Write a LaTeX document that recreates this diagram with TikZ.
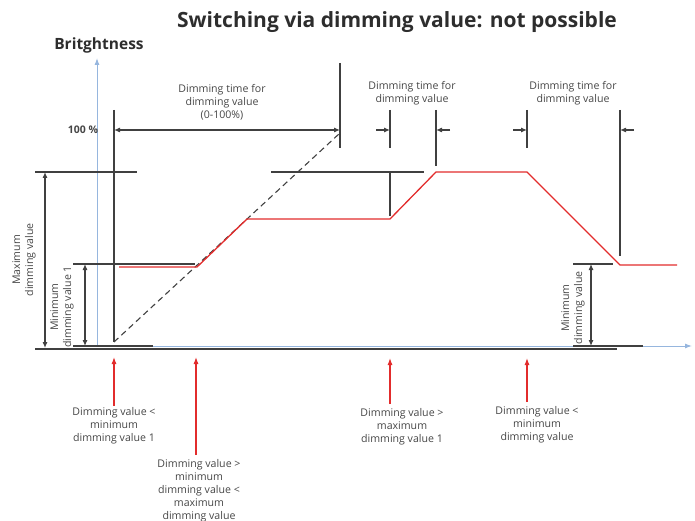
\documentclass[tikz,border=0pt]{standalone}
\usepackage{fontspec}
\setmainfont{Open Sans}
\usetikzlibrary{arrows.meta, positioning, calc}
\definecolor{linegray}{RGB}{64, 64, 64}
\definecolor{textgray}{RGB}{70, 70, 70}
\definecolor{titlegray}{RGB}{45, 45, 45}
\definecolor{curvered}{RGB}{226, 44, 44}
\definecolor{axisblue}{RGB}{150, 182, 222}
\tikzstyle{guide} = [linegray, line width=1.1pt]
\tikzstyle{dimarrow} = [linegray, line width=1.1pt, {Latex[length=6pt,width=5pt]}-{Latex[length=6pt,width=5pt]}]
\tikzstyle{pointer} = [linegray, line width=1.1pt, -{Latex[length=6pt,width=5pt]}]
\tikzstyle{redline} = [curvered, line width=1.3pt]
\tikzstyle{trigger} = [curvered, line width=1.1pt, -{Latex[length=7pt,width=5pt]}]
\tikzstyle{axis} = [axisblue, line width=1pt, -{Latex[length=7pt,width=5pt]}]
\tikzstyle{note} = [font=\fontsize{10.6}{13}\selectfont, textgray, align=center, inner sep=1pt]
\tikzstyle{vnote} = [note, rotate=90]

\begin{document}
\begin{tikzpicture}[x=1pt, y=-1pt]
\useasboundingbox (0,0) rectangle (695,521);

% Title
\node[font=\fontsize{21}{24}\selectfont\bfseries, titlegray] (title) at (397,22) {Switching via dimming value: not possible};
\node[font=\fontsize{15.5}{18}\selectfont\bfseries, titlegray] (ylabel) at (99,45) {Britghtness};

% Axes
\coordinate (origin) at (97,346);
\draw[axis] (origin) -- (97,58);
\draw[axis] (origin) -- (692,346);
\draw[guide] (35,349) -- (617,349);
\draw[guide] (73,346) -- (153,346);
\draw[guide] (573,346) -- (643,346);

% Guide lines
\draw[guide] (35,172) -- (137,172);
\draw[guide] (271,172) -- (424,172);
\draw[guide] (73,264) -- (195,264);
\draw[guide] (573,264) -- (613,264);
\draw[guide] (114,110) -- (114,342);
\draw[guide] (340,63) -- (340,148);
\draw[guide] (390,110) -- (390,148);
\draw[guide] (390,172) -- (390,216);
\draw[guide] (436,110) -- (436,166);
\draw[guide] (527,110) -- (527,148);
\draw[guide] (620,110) -- (620,256);

% Full ramp 0-100%
\draw[linegray, line width=1.1pt, dash pattern=on 6pt off 4pt] (114,342) -- (340,133);

% Brightness curve
\draw[redline] (119,267) -- (197,267) -- (247,219) -- (390,219) -- (436,172) -- (527,172) -- (620,265) -- (677,265);

% Dimming times
\node[font=\fontsize{10.5}{12}\selectfont\bfseries, textgray] (full) at (83,130) {100 \%};
\draw[dimarrow] (114,130) -- (340,130);
\node[note] (tfull) at (222,102) {Dimming time for\\dimming value\\(0-100\%)};
\draw[pointer] (376,130) -- (390,130);
\draw[pointer] (450,130) -- (436,130);
\node[note] (tup) at (412,93) {Dimming time for\\dimming value};
\draw[pointer] (513,130) -- (527,130);
\draw[pointer] (634,130) -- (620,130);
\node[note] (tdown) at (573,93) {Dimming time for\\dimming value};

% Dimming value ranges
\draw[dimarrow] (45,172) -- (45,348);
\node[vnote] (maxval) at (24,260) {Maximum\\dimming value};
\draw[dimarrow] (85,264) -- (85,346);
\node[vnote] (minval1) at (62,307) {Minimum\\dimming value 1};
\draw[dimarrow] (591,264) -- (591,346);
\node[vnote] (minval) at (573,308) {Minimum\\dimming value};

% Switching events
\coordinate (e1) at (114,357);
\coordinate (e2) at (196,357);
\coordinate (e3) at (390,358);
\coordinate (e4) at (527,358);
\node[note, anchor=north] (n1) at (114,406) {Dimming value <\\minimum\\dimming value 1};
\node[note, anchor=north] (n2) at (199,458) {Dimming value >\\minimum\\dimming value <\\maximum\\dimming value};
\node[note, anchor=north] (n3) at (402,407) {Dimming value >\\maximum\\dimming value 1};
\node[note, anchor=north] (n4) at (537,405) {Dimming value <\\minimum\\dimming value};
\draw[trigger] (n1.north -| e1) -- (e1);
\draw[trigger] ($ (n2.north -| e2) + (0,-3) $) -- (e2);
\draw[trigger] ($ (n3.north -| e3) + (0,-3) $) -- (e3);
\draw[trigger] ($ (n4.north -| e4) + (0,-3) $) -- (e4);

\end{tikzpicture}
\end{document}
